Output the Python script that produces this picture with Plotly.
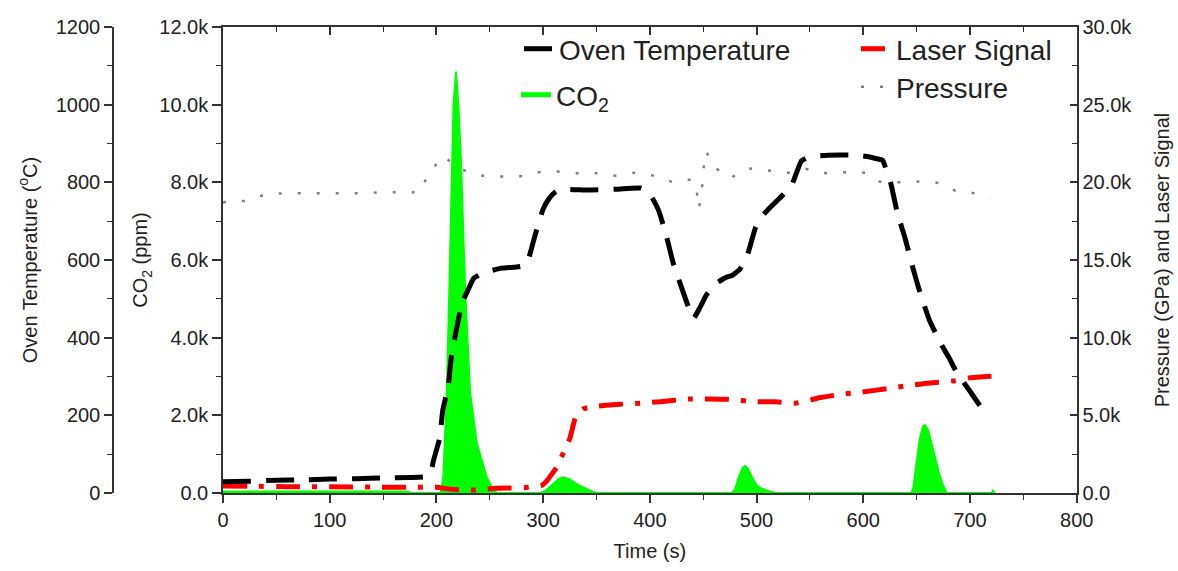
import plotly.graph_objects as go

# ---------------- data ----------------
oven_t = [0, 25, 50, 75, 100, 125, 150, 175, 190, 195, 197, 203, 206, 211, 214, 218, 224, 230, 235, 245,
          261, 275, 283, 286, 293, 300, 306, 312, 319, 342, 367, 392, 400, 408, 415, 422, 430, 436, 441,
          447, 453, 462, 472, 477, 484, 491, 499, 506, 514, 522, 528, 533, 542, 550, 567, 592, 605, 614,
          618, 626, 632, 639, 646, 653, 662, 673, 680, 688, 700, 710, 717]
oven_temp = [29, 30, 33, 34, 36, 37, 39, 40, 42, 55, 81, 141, 214, 274, 351, 411, 489, 525, 553, 568,
             579, 582, 586, 600, 669, 731, 760, 776, 782, 780, 782, 785, 770, 729, 667, 591, 527, 480, 450,
             478, 510, 540, 556, 560, 575, 609, 683, 715, 739, 760, 778, 793, 855, 866, 870, 870, 866, 860,
             857, 795, 720, 658, 585, 518, 445, 383, 350, 308, 262, 222, 195]

co2_t = [0, 60, 120, 172, 176, 204, 206.5, 208, 209.7, 212, 214.4, 216, 218.4, 220.5, 223, 227, 231.6,
         237.8, 247, 253, 257, 297, 302, 310, 315, 319, 325, 333, 340, 344, 350, 477, 480, 483.5, 487,
         489.4, 492, 497, 501, 505, 512, 518, 645, 647, 650.3, 653, 656, 658, 661, 664, 667.5, 671, 674,
         678, 720, 721.5, 723]
co2_ppm = [40, 40, 40, 40, 0, 0, 420, 1280, 2570, 5140, 8575, 10000, 10850, 10000, 8575, 5140, 2570,
           1280, 420, 80, 0, 0, 50, 250, 370, 404, 350, 206, 110, 60, 0, 0, 100, 420, 650,
           695, 620, 335, 180, 110, 40, 0, 0, 150, 850, 1400, 1720, 1750, 1600, 1250, 850, 500, 250,
           0, 0, 60, 0]

laser_t = [0, 30, 60, 100, 140, 180, 200, 213, 225, 235, 245, 255, 270, 282, 292, 299, 303, 308, 313,
           319, 325, 330, 337, 346, 372, 391, 410, 436, 455, 472, 500, 518, 536, 561, 579, 597, 624, 641,
           660, 686, 700, 722]
laser_sig = [450, 430, 410, 400, 380, 370, 370, 250, 200, 190, 250, 300, 320, 340, 400, 500, 750, 1200,
             1700, 2600, 3500, 4800, 5400, 5560, 5710, 5780, 5880, 6050, 6050, 6030, 5880, 5880, 5780,
             6160, 6350, 6480, 6740, 6910, 7060, 7230, 7420, 7530]

press_t = [0, 3.5, 22, 40, 58, 76, 94, 112, 130, 148, 166, 184, 192.5, 206, 222, 241, 259, 277.5, 294.6,
           312.8, 331, 349.7, 367.5, 386, 404, 422, 440, 444, 446, 448.7, 450, 452.8, 460, 475, 492.5,
           511, 530, 547, 565, 584, 602, 615, 633, 651, 669, 686, 700, 719]
press_val = [18700, 18760, 18800, 19230, 19300, 19300, 19340, 19300, 19300, 19360, 19360, 19360, 20520,
             21700, 20860, 20430, 20370, 20370, 20650, 20690, 20590, 20590, 20430, 20620, 20430, 20000,
             20200, 19400, 18300, 19500, 20750, 22000, 21000, 20260, 20900, 20750, 20620, 20860, 20590,
             20650, 20620, 20050, 20000, 20050, 19980, 19470, 19360, 19040]

co2_ticks = [0, 2000, 4000, 6000, 8000, 10000, 12000]
co2_ticktext = ["0.0", "2.0k", "4.0k", "6.0k", "8.0k", "10.0k", "12.0k"]
right_ticks = [0, 5000, 10000, 15000, 20000, 25000, 30000]
right_ticktext = ["0.0", "5.0k", "10.0k", "15.0k", "20.0k", "25.0k", "30.0k"]

# ---------------- figure ----------------
W, H = 1178, 571
FONT = "Liberation Sans, Arial, sans-serif"
TXT = "#222222"

x_left, x_right = 223, 1076.7
y_top, y_bot = 27, 493
xdom = [x_left / W, x_right / W]
ydom = [1 - y_bot / H, 1 - y_top / H]

GREEN = "#00ff00"
RED_DASH = "24px,12px,5px,12px"
BLACK_DASH = "28px,15px"
GRAY_DASH = "3px,16px"

fig = go.Figure()

fig.add_trace(go.Scatter(
    x=co2_t, y=co2_ppm, name="CO<sub>2</sub>", mode="lines",
    line=dict(color=GREEN, width=2), fill="tozeroy", fillcolor=GREEN,
    xaxis="x", yaxis="y", showlegend=False))
# legend entry for CO2 (line sample only, no data)
fig.add_trace(go.Scatter(
    x=[None], y=[None], name="CO<sub>2</sub>", mode="lines",
    line=dict(color=GREEN, width=5), xaxis="x", yaxis="y", legend="legend3", showlegend=True))

fig.add_trace(go.Scatter(
    x=laser_t, y=laser_sig, name="Laser Signal", mode="lines",
    line=dict(color="#ff0000", width=5, dash=RED_DASH, shape="spline", smoothing=0.4),
    xaxis="x", yaxis="y2", legend="legend2", showlegend=True))

fig.add_trace(go.Scatter(
    x=press_t, y=press_val, name="Pressure", mode="lines",
    line=dict(color="#808080", width=2.5, dash=GRAY_DASH),
    xaxis="x", yaxis="y2", legend="legend4", showlegend=True))

fig.add_trace(go.Scatter(
    x=oven_t, y=oven_temp, name="Oven Temperature", mode="lines",
    line=dict(color="#000000", width=5, dash=BLACK_DASH, shape="spline", smoothing=0.4),
    xaxis="x", yaxis="y3", legend="legend", showlegend=True))

# empty trace to carry the top axis
fig.add_trace(go.Scatter(x=[], y=[], xaxis="x2", yaxis="y", showlegend=False, hoverinfo="skip"))

axis_font = dict(family=FONT, size=20, color=TXT)
title_font = dict(family=FONT, size=20, color=TXT)

fig.update_layout(
    width=W, height=H, autosize=False,
    margin=dict(l=0, r=0, t=0, b=0, autoexpand=False),
    paper_bgcolor="white", plot_bgcolor="white",
    font=dict(family=FONT, color=TXT),
    showlegend=True,
    xaxis=dict(
        domain=xdom, range=[0, 800], anchor="y", automargin=False,
        tickmode="linear", tick0=0, dtick=100,
        ticks="outside", ticklen=8, tickwidth=1.5, tickcolor="#333",
        minor=dict(dtick=50, ticks="outside", ticklen=5, tickwidth=1.2, tickcolor="#333"),
        showline=True, linecolor="#333", linewidth=1.5,
        showgrid=False, zeroline=False,
        tickfont=axis_font,
        title=dict(text="Time (s)", font=title_font, standoff=14),
    ),
    xaxis2=dict(
        overlaying="x", side="top", anchor="y", range=[0, 800], automargin=False,
        tickmode="linear", tick0=0, dtick=100,
        ticks="inside", ticklen=8, tickwidth=1.5, tickcolor="#333",
        minor=dict(dtick=50, ticks="inside", ticklen=5, tickwidth=1.2, tickcolor="#333"),
        showline=True, linecolor="#333", linewidth=1.5,
        showticklabels=False, showgrid=False, zeroline=False,
    ),
    yaxis=dict(
        domain=ydom, range=[0, 12000], anchor="x", automargin=False,
        tickmode="array", tickvals=co2_ticks, ticktext=co2_ticktext,
        ticks="outside", ticklen=9, tickwidth=1.5, tickcolor="#333",
        minor=dict(tickmode="array", tickvals=[1000, 3000, 5000, 7000, 9000, 11000],
                   ticks="outside", ticklen=5, tickwidth=1.2, tickcolor="#333"),
        showline=True, linecolor="#333", linewidth=1.5,
        showgrid=False, zeroline=False,
        tickfont=axis_font,
        title=dict(text="CO<sub>2</sub> (ppm)", font=title_font, standoff=6),
    ),
    yaxis2=dict(
        overlaying="y", side="right", anchor="x", range=[0, 30000], automargin=False,
        tickmode="array", tickvals=right_ticks, ticktext=right_ticktext,
        ticks="inside", ticklen=7, tickwidth=1.5, tickcolor="#333",
        minor=dict(tickmode="array", tickvals=[2500, 7500, 12500, 17500, 22500, 27500],
                   ticks="inside", ticklen=5, tickwidth=1.2, tickcolor="#333"),
        showline=True, linecolor="#333", linewidth=1.5,
        showgrid=False, zeroline=False,
        tickfont=axis_font,
        title=dict(text="Pressure (GPa) and Laser Signal", font=title_font, standoff=24),
    ),
    yaxis3=dict(
        overlaying="y", side="left", anchor="free", position=113 / W, range=[0, 1200],
        automargin=False,
        tickmode="linear", tick0=0, dtick=200,
        ticks="outside", ticklen=8, tickwidth=1.5, tickcolor="#333",
        minor=dict(dtick=100, ticks="outside", ticklen=5, tickwidth=1.2, tickcolor="#333"),
        showline=True, linecolor="#333", linewidth=1.5,
        showgrid=False, zeroline=False,
        tickfont=axis_font,
        title=dict(text="Oven Temperature (<sup>o</sup>C)", font=title_font, standoff=12),
    ),
)

leg_common = dict(xanchor="left", yanchor="middle", bgcolor="rgba(0,0,0,0)", visible=True,
                  borderwidth=0, font=dict(family=FONT, size=28, color=TXT))
fig.update_layout(
    legend=dict(x=519 / W, y=1 - 49 / H, **leg_common),
    legend2=dict(x=856 / W, y=1 - 49 / H, **leg_common),
    legend3=dict(x=516 / W, y=1 - 95 / H, **leg_common),
    legend4=dict(x=856 / W, y=1 - 87 / H, **leg_common),
)

fig.write_html("out.html")
